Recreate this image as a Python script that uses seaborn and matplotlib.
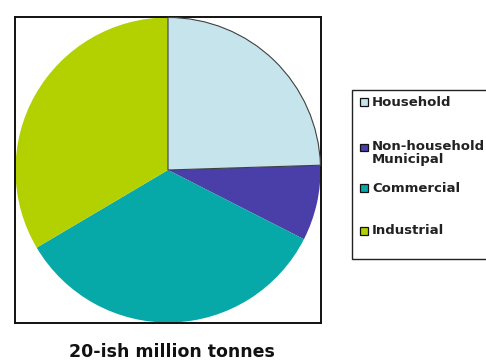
import matplotlib
matplotlib.use("Agg")
import matplotlib.pyplot as plt
from matplotlib.patches import Rectangle
import seaborn as sns

# Share of waste by source (percent of roughly 20 million tonnes)
categories = ["Household", "Non-household\nMunicipal", "Commercial", "Industrial"]
shares = [24.5, 8.0, 34.0, 33.5]
colors = ["#c6e4eb", "#4a3ea8", "#06a8a8", "#b3d000"]
caption = "20-ish million tonnes"

sns.set_theme(style="white")
plt.rcParams["font.family"] = ["DejaVu Sans"]
palette = sns.color_palette(colors)

fig = plt.figure(figsize=(4.86, 3.62), dpi=100)
fig.patch.set_facecolor("white")
ax = fig.add_axes([15 / 486, 1 - 323 / 362, 306 / 486, 306 / 362])

wedges, _ = ax.pie(shares, colors=palette, startangle=90, counterclock=False,
                   radius=1.0, frame=True,
                   wedgeprops=dict(linewidth=0))
# thin outline only around the household slice
wedges[0].set_edgecolor("#404040")
wedges[0].set_linewidth(0.8)
wedges[0].set_zorder(5)

ax.set_xlim(-1.003, 1.003)
ax.set_ylim(-1.003, 1.003)
ax.set_aspect("equal")
ax.set_xticks([])
ax.set_yticks([])
for sp in ax.spines.values():
    sp.set_visible(True)
    sp.set_color("#111111")
    sp.set_linewidth(1.4)

fig.text(172 / 486, 1 - 352 / 362, caption, ha="center", va="center",
         fontsize=12.5, fontweight="bold", color="#111111")

# legend panel
W, H = 486, 362
fig.patches.append(Rectangle((352 / W, 1 - 259 / H), 140 / W, 169 / H,
                             transform=fig.transFigure, facecolor="white",
                             edgecolor="#222222", linewidth=1.0))
row_y = [102, 153, 188, 231]
line_h = 11
for label, col, yc in zip(categories, palette, row_y):
    n = label.count("\n") + 1
    top = yc - (n - 1) * line_h / 2
    fig.patches.append(Rectangle((360 / W, 1 - (top + 4) / H), 8 / W, 8 / H,
                                 transform=fig.transFigure, facecolor=col,
                                 edgecolor="#111111", linewidth=0.9))
    fig.text(372 / W, 1 - yc / H, label, ha="left", va="center",
             fontsize=9.5, fontweight="bold", color="#222222",
             linespacing=0.95)

fig.savefig("out.png", dpi=100, facecolor="white")
